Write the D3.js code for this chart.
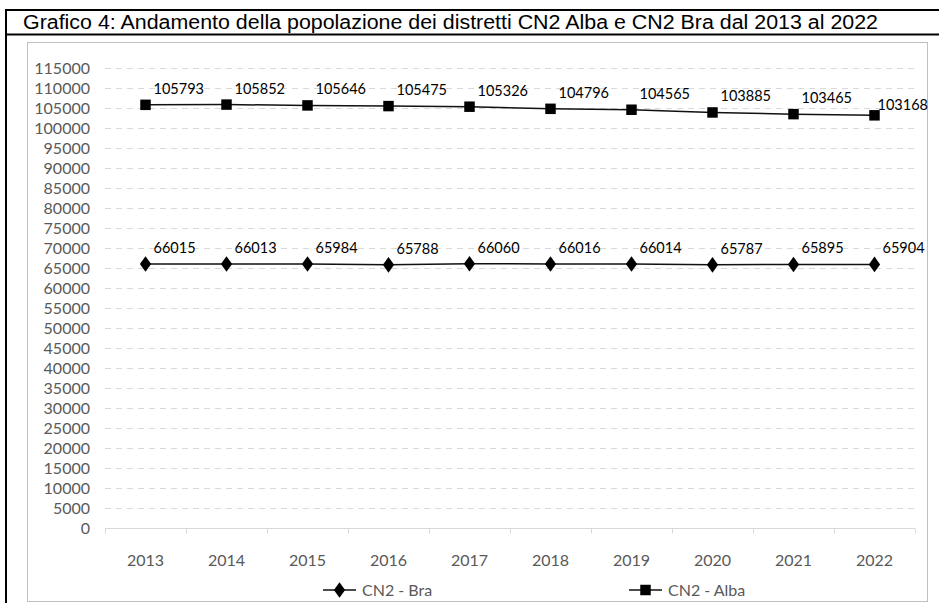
<!DOCTYPE html>
<html>
<head>
<meta charset="utf-8">
<script src="https://cdn.jsdelivr.net/npm/d3@7.9.0/dist/d3.min.js"></script>
<style>
  html, body { margin: 0; padding: 0; background: #fff; }
  svg { display: block; }
</style>
</head>
<body>
<svg id="chart" width="939" height="603"></svg>
<script>
const years = ['2013', '2014', '2015', '2016', '2017', '2018', '2019', '2020', '2021', '2022'];
const bra = [66015, 66013, 65984, 65788, 66060, 66016, 66014, 65787, 65895, 65904];
const alba = [105793, 105852, 105646, 105475, 105326, 104796, 104565, 103885, 103465, 103168];
const yTicks = d3.range(0, 115001, 5000);
const title = 'Grafico 4: Andamento della popolazione dei distretti CN2 Alba e CN2 Bra dal 2013 al 2022';

const svg = d3.select('#chart');
const font = 'Lato, "Open Sans", sans-serif';

// page frame and title box
svg.append('line').attr('x1', 6).attr('x2', 6).attr('y1', 9).attr('y2', 603)
  .attr('stroke', '#000').attr('stroke-width', 2);
svg.append('line').attr('x1', 5).attr('x2', 939).attr('y1', 10).attr('y2', 10)
  .attr('stroke', '#000').attr('stroke-width', 2);
svg.append('line').attr('x1', 5).attr('x2', 939).attr('y1', 34.5).attr('y2', 34.5)
  .attr('stroke', '#000').attr('stroke-width', 2);
svg.append('text')
  .attr('x', 23).attr('y', 29)
  .attr('font-family', '"Liberation Sans", Arial, sans-serif')
  .attr('font-size', '20px')
  .attr('textLength', 855)
  .attr('lengthAdjust', 'spacingAndGlyphs')
  .attr('fill', '#000')
  .text(title);

// chart area border
svg.append('rect')
  .attr('x', 27.5).attr('y', 42.5).attr('width', 900).attr('height', 559)
  .attr('fill', 'none').attr('stroke', '#bfbfbf').attr('stroke-width', 1);

const margin = { left: 105, right: 915, top: 68, bottom: 528 };

const x = d3.scaleBand().domain(years).range([margin.left, margin.right]);
const y = d3.scaleLinear().domain([0, 115000]).range([margin.bottom, margin.top]);

// gridlines
svg.append('g')
  .selectAll('line')
  .data(yTicks.filter(d => d > 0))
  .join('line')
  .attr('x1', margin.left).attr('x2', margin.right)
  .attr('y1', d => Math.round(y(d)) + 0.5).attr('y2', d => Math.round(y(d)) + 0.5)
  .attr('stroke', '#d9d9d9')
  .attr('stroke-dasharray', '6,5');

// y axis labels
svg.append('g')
  .selectAll('text')
  .data(yTicks)
  .join('text')
  .attr('x', 90)
  .attr('y', d => y(d) + 5.5)
  .attr('text-anchor', 'end')
  .attr('font-family', font)
  .attr('font-size', '16px')
  .attr('fill', '#595959')
  .text(d => d);

// x axis
const xAxis = svg.append('g')
  .attr('transform', `translate(0,${margin.bottom + 0.5})`)
  .call(d3.axisBottom(x).tickSize(0).tickPadding(26));
xAxis.select('.domain').attr('stroke', '#d9d9d9').attr('d', `M${margin.left},0H${margin.right}`);
xAxis.selectAll('text')
  .attr('font-family', font)
  .attr('font-size', '16px')
  .attr('fill', '#595959');
xAxis.selectAll('.sep')
  .data(years.concat(['end']))
  .join('line')
  .attr('class', 'sep')
  .attr('x1', (d, i) => Math.round(margin.left + i * x.bandwidth()) + 0.5)
  .attr('x2', (d, i) => Math.round(margin.left + i * x.bandwidth()) + 0.5)
  .attr('y1', 0).attr('y2', 5)
  .attr('stroke', '#d9d9d9');

const cx = d => x(d) + x.bandwidth() / 2;
const line = d3.line().x(d => cx(d.year)).y(d => y(d.value));

const series = [
  { name: 'CN2 - Bra', values: bra, symbol: d3.symbolDiamond, size: 70 },
  { name: 'CN2 - Alba', values: alba, symbol: d3.symbolSquare, size: 110 }
];

series.forEach(s => {
  const pts = years.map((yr, i) => ({ year: yr, value: s.values[i] }));
  const last = pts.length - 1;
  const g = svg.append('g');
  g.append('path')
    .datum(pts)
    .attr('d', line)
    .attr('fill', 'none')
    .attr('stroke', '#111')
    .attr('stroke-width', 1.5);
  g.selectAll('path.mark')
    .data(pts)
    .join('path')
    .attr('class', 'mark')
    .attr('d', d3.symbol().type(s.symbol).size(s.size))
    .attr('transform', d => `translate(${cx(d.year)},${y(d.value)})` + (s.symbol === d3.symbolDiamond ? ' scale(1.25,1)' : ''))
    .attr('fill', '#000');
  // data labels sit just right of and above each point; the last Alba label is nudged closer
  const tight = (i) => i === last && s.name === 'CN2 - Alba';
  g.selectAll('text')
    .data(pts)
    .join('text')
    .attr('x', (d, i) => cx(d.year) + (tight(i) ? 3 : 8))
    .attr('y', (d, i) => y(d.value) - (tight(i) ? 5 : 11))
    .attr('font-family', font)
    .attr('font-size', '14.5px')
    .attr('fill', '#000')
    .text(d => d.value);
});

// legend
const legendX = [323, 629];
series.forEach((s, i) => {
  const lg = svg.append('g').attr('transform', `translate(${legendX[i]},590)`);
  lg.append('line').attr('x1', 0).attr('x2', 33).attr('stroke', '#111').attr('stroke-width', 1.5);
  lg.append('path')
    .attr('d', d3.symbol().type(s.symbol).size(s.size))
    .attr('transform', 'translate(16.5,0)' + (s.symbol === d3.symbolDiamond ? ' scale(1.25,1)' : ''))
    .attr('fill', '#000');
  lg.append('text')
    .attr('x', 39).attr('y', 5.5)
    .attr('font-family', font)
    .attr('font-size', '16px')
    .attr('fill', '#595959')
    .text(s.name);
});
</script>
</body>
</html>
